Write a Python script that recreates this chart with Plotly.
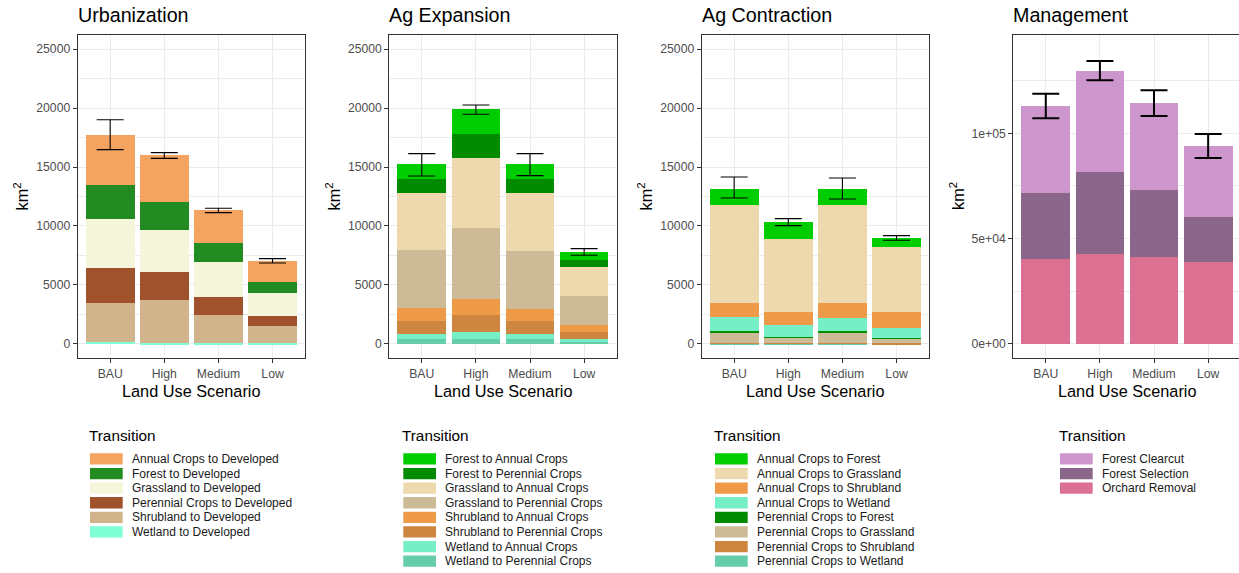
import plotly.graph_objects as go

# ---------------------------------------------------------------- data
scenarios = ["BAU", "High", "Medium", "Low"]

# Urbanization (km^2 by transition type, per scenario)
urb_transitions = [
    "Annual Crops to Developed",
    "Forest to Developed",
    "Grassland to Developed",
    "Perennial Crops to Developed",
    "Shrubland to Developed",
    "Wetland to Developed",
]
urb_values = [
    [4237, 3983, 2796, 1780],
    [2882, 2373, 1611, 960],
    [4152, 3559, 2966, 1921],
    [2966, 2373, 1525, 848],
    [3275, 3620, 2348, 1465],
    [200, 110, 110, 60],
]
urb_colors = ["#F4A460", "#228B22", "#F5F5DC", "#A0522D", "#D2B48C", "#7FFFD4"]
urb_err_low = [16470, 15735, 11130, 6865]
urb_err_high = [19010, 16215, 11500, 7230]

# Agricultural expansion
exp_transitions = [
    "Forest to Annual Crops",
    "Forest to Perennial Crops",
    "Grassland to Annual Crops",
    "Grassland to Perennial Crops",
    "Shrubland to Annual Crops",
    "Shrubland to Perennial Crops",
    "Wetland to Annual Crops",
    "Wetland to Perennial Crops",
]
exp_values = [
    [1271, 2119, 1271, 678],
    [1186, 2034, 1186, 593],
    [4831, 5932, 4915, 2458],
    [4915, 6017, 4916, 2458],
    [1102, 1356, 1017, 593],
    [1102, 1441, 1102, 593],
    [423, 593, 423, 224],
    [424, 424, 424, 200],
]
exp_colors = ["#00CD00", "#008B00", "#EED8AE", "#CDBA96",
              "#EE9A49", "#CD853F", "#76EEC6", "#66CDAA"]
exp_err_low = [14240, 19465, 14265, 7515]
exp_err_high = [16130, 20255, 16130, 8080]

# Agricultural contraction
con_transitions = [
    "Annual Crops to Forest",
    "Annual Crops to Grassland",
    "Annual Crops to Shrubland",
    "Annual Crops to Wetland",
    "Perennial Crops to Forest",
    "Perennial Crops to Grassland",
    "Perennial Crops to Shrubland",
    "Perennial Crops to Wetland",
]
con_values = [
    [1328, 1440, 1328, 762],
    [8333, 6187, 8333, 5509],
    [1215, 1102, 1271, 1356],
    [1158, 1017, 1102, 848],
    [85, 56, 85, 58],
    [904, 424, 904, 370],
    [60, 57, 60, 70],
    [53, 56, 53, 10],
]
con_colors = ["#00CD00", "#EED8AE", "#EE9A49", "#76EEC6",
              "#008B00", "#CDBA96", "#CD853F", "#66CDAA"]
con_err_low = [12375, 10030, 12290, 8785]
con_err_high = [14155, 10620, 14070, 9180]

# Management
man_transitions = ["Forest Clearcut", "Forest Selection", "Orchard Removal"]
man_values = [
    [41290, 47935, 41290, 33700],
    [31325, 38920, 31800, 21355],
    [40340, 42710, 41290, 38920],
]
man_colors = ["#CD96CD", "#8B668B", "#DB7093"]
man_err_low = [107100, 125140, 108210, 88280]
man_err_high = [118810, 134310, 120390, 99670]

small_ticks = [0, 5000, 10000, 15000, 20000, 25000]
small_ticktext = ["0", "5000", "10000", "15000", "20000", "25000"]
small_minor = [2500, 7500, 12500, 17500, 22500]
man_ticks = [0, 50000, 100000]
man_ticktext = ["0e+00", "5e+04", "1e+05"]
man_minor = [25000, 75000, 125000]

titles = ["Urbanization", "Ag Expansion", "Ag Contraction", "Management"]

# ---------------------------------------------------------------- layout helpers
W, H = 1239, 573
FONT = "Liberation Sans, Arial, sans-serif"


def fx(p):
    return p / W


def fy(p):
    return 1 - p / H


panels = [
    dict(title=titles[0], names=urb_transitions, values=urb_values, colors=urb_colors,
         lo=urb_err_low, hi=urb_err_high, left=77.7, right=305.0,
         yrange=[-1215, 26214], ticks=small_ticks, ticktext=small_ticktext,
         minor=small_minor, err_w=1.1, ytitle_x=22, leg_x=90.0, xmax=3.6),
    dict(title=titles[1], names=exp_transitions, values=exp_values, colors=exp_colors,
         lo=exp_err_low, hi=exp_err_high, left=389.3, right=616.6,
         yrange=[-1215, 26214], ticks=small_ticks, ticktext=small_ticktext,
         minor=small_minor, err_w=1.1, ytitle_x=334, leg_x=403.3, xmax=3.6),
    dict(title=titles[2], names=con_transitions, values=con_values, colors=con_colors,
         lo=con_err_low, hi=con_err_high, left=701.7, right=929.0,
         yrange=[-1215, 26214], ticks=small_ticks, ticktext=small_ticktext,
         minor=small_minor, err_w=1.1, ytitle_x=646, leg_x=715.0, xmax=3.6),
    dict(title=titles[3], names=man_transitions, values=man_values, colors=man_colors,
         lo=man_err_low, hi=man_err_high, left=1013.3, right=1239.0,
         yrange=[-6803, 146810], ticks=man_ticks, ticktext=man_ticktext,
         minor=man_minor, err_w=2.0, ytitle_x=957.5, leg_x=1060.0, xmax=3.57),
]

TOP, BOTTOM = 34.7, 358.3
PAD = 2  # annotation box padding, taken off left-anchored text positions

fig = go.Figure()
annotations = []
shapes = []

for i, p in enumerate(panels):
    n = "" if i == 0 else str(i + 1)
    xa, ya = "x" + n, "y" + n

    # stacked bars: last legend entry sits at the bottom of the stack
    for name, vals, col in reversed(list(zip(p["names"], p["values"], p["colors"]))):
        fig.add_trace(go.Bar(
            x=scenarios, y=vals, name=name, marker=dict(color=col, line=dict(width=0)),
            width=0.9, xaxis=xa, yaxis=ya, showlegend=False,
        ))

    totals = [sum(col) for col in zip(*p["values"])]
    fig.add_trace(go.Scatter(
        x=scenarios, y=totals, mode="markers",
        marker=dict(size=1, color="rgba(0,0,0,0)"),
        error_y=dict(type="data", symmetric=False,
                     array=[h - t for h, t in zip(p["hi"], totals)],
                     arrayminus=[t - l for l, t in zip(p["lo"], totals)],
                     color="black", thickness=p["err_w"], width=13.5),
        xaxis=xa, yaxis=ya, showlegend=False, hoverinfo="skip",
    ))

    dom_x = [fx(p["left"]), min(1.0, fx(p["right"]))]
    dom_y = [fy(BOTTOM), fy(TOP)]
    last = i == 3
    fig.update_layout(**{
        "xaxis" + n: dict(
            domain=dom_x, anchor=ya, type="category",
            categoryorder="array", categoryarray=scenarios,
            range=[-0.6, p["xmax"]], showgrid=True, gridcolor="#EBEBEB", gridwidth=1.1,
            showline=True, linecolor="#333333", linewidth=1.1, mirror=True,
            ticks="outside", ticklen=4, tickcolor="#333333", tickwidth=1.1,
            tickfont=dict(family=FONT, size=12.2, color="#4D4D4D"),
            zeroline=False,
        ),
        "yaxis" + n: dict(
            domain=dom_y, anchor=xa, range=p["yrange"],
            tickmode="array", tickvals=p["ticks"], ticktext=p["ticktext"],
            showgrid=True, gridcolor="#EBEBEB", gridwidth=1.1,
            minor=dict(tickmode="array", tickvals=p["minor"], showgrid=True,
                       gridcolor="#EBEBEB", gridwidth=0.55, ticks=""),
            showline=True, linecolor="#333333", linewidth=1.1, mirror=not last,
            ticks="outside", ticklen=4, tickcolor="#333333", tickwidth=1.1,
            tickfont=dict(family=FONT, size=12.2, color="#4D4D4D"),
            zeroline=False,
        ),
    })

    # panel title
    annotations.append(dict(
        text=p["title"], x=fx(p["left"] - PAD), y=fy(15.5), xref="paper", yref="paper",
        xanchor="left", yanchor="middle", showarrow=False,
        font=dict(family=FONT, size=19.7, color="black"),
    ))
    # axis titles
    annotations.append(dict(
        text="Land Use Scenario", x=fx((p["left"] + p["left"] + 227.3) / 2), y=fy(391),
        xref="paper", yref="paper", xanchor="center", yanchor="middle", showarrow=False,
        font=dict(family=FONT, size=16.3, color="black"),
    ))
    annotations.append(dict(
        text="km<sup>2</sup>", x=fx(p["ytitle_x"]), y=fy((TOP + BOTTOM) / 2),
        xref="paper", yref="paper", xanchor="center", yanchor="middle", showarrow=False,
        textangle=-90, font=dict(family=FONT, size=16.3, color="black"),
    ))

    # legend: title, colour keys and labels
    lx = p["leg_x"]
    annotations.append(dict(
        text="Transition", x=fx(lx - 1 - PAD), y=fy(435.5), xref="paper", yref="paper",
        xanchor="left", yanchor="middle", showarrow=False,
        font=dict(family=FONT, size=15.3, color="black"),
    ))
    for k, (name, col) in enumerate(zip(p["names"], p["colors"])):
        y0 = 453.3 + k * 14.6
        shapes.append(dict(
            type="rect", xref="paper", yref="paper",
            x0=fx(lx), x1=fx(lx + 32.7), y0=fy(y0 + 11.3), y1=fy(y0),
            fillcolor=col, line=dict(width=0),
        ))
        annotations.append(dict(
            text=name, x=fx(lx + 42 - PAD), y=fy(y0 + 5.65), xref="paper", yref="paper",
            xanchor="left", yanchor="middle", showarrow=False,
            font=dict(family=FONT, size=12.0, color="#1A1A1A"),
        ))

fig.update_layout(
    width=W, height=H, margin=dict(l=0, r=0, t=0, b=0),
    paper_bgcolor="white", plot_bgcolor="white",
    barmode="stack", bargap=0.1, showlegend=False,
    annotations=annotations, shapes=shapes,
    font=dict(family=FONT),
)

fig.write_html("out.html")
